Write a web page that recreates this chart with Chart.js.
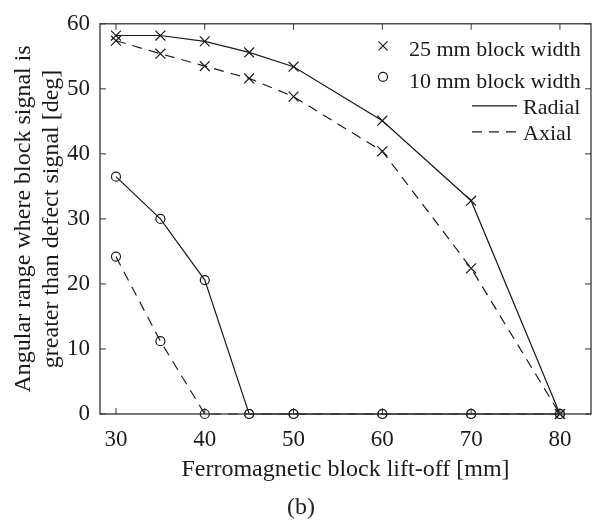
<!DOCTYPE html>
<html lang="en">
<head>
  <meta charset="UTF-8">
  <title>Angular range vs block lift-off</title>
  <script src="https://cdn.jsdelivr.net/npm/chart.js"></script>
  <style>
    body {
      margin: 0;
      background: #fff;
      font-family: 'Liberation Serif', 'Times New Roman', serif;
    }

    #chartContainer {
      position: relative;
      width: 616px;
      height: 520px;
    }

    #caption {
      position: absolute;
      left: 270px;
      top: 494px;
      width: 62px;
      text-align: center;
      font-size: 24px;
      line-height: 24px;
      color: #222;
    }
  </style>
</head>
<body>

  <div id="chartContainer">
    <canvas id="liftoffChart"></canvas>
    <div id="caption">(b)</div>
  </div>

  <script>
    // lift-off positions [mm]
    const liftoff = [30, 35, 40, 45, 50, 60, 70, 80];

    // angular range [deg]
    const wide25Radial = [58.2, 58.2, 57.3, 55.6, 53.4, 45.1, 32.8, 0];
    const wide25Axial = [57.4, 55.4, 53.5, 51.6, 48.8, 40.4, 22.4, 0];
    const narrow10Radial = [36.5, 30.0, 20.6, 0, 0, 0, 0, 0];
    const narrow10Axial = [24.2, 11.2, 0, 0, 0, 0, 0, 0];

    const xTicks = [30, 40, 50, 60, 70, 80];
    const yTicks = [0, 10, 20, 30, 40, 50, 60];

    const legendText = ['25 mm block width', '10 mm block width', 'Radial', 'Axial'];

    const ink = '#1a1a1a';
    const dash = [10, 7];
    const serif = "'Liberation Serif', 'Times New Roman', serif";

    function pts(values) {
      return liftoff.map((x, i) => ({ x: x, y: values[i] }));
    }

    function series(label, values, marker, dashed) {
      return {
        label: label,
        data: pts(values),
        borderColor: ink,
        backgroundColor: 'rgba(0,0,0,0)',
        borderWidth: 1.2,
        borderDash: dashed ? dash : [],
        pointStyle: marker,
        pointRadius: marker === 'crossRot' ? 7 : 4.5,
        pointBorderColor: ink,
        pointBorderWidth: 1.2,
        pointBackgroundColor: 'rgba(0,0,0,0)',
        tension: 0,
        clip: false
      };
    }

    // box round the plot with inward ticks, like a matlab axes
    const frame = {
      id: 'frame',
      afterDatasetsDraw(chart) {
        const { ctx, chartArea: a, scales } = chart;
        const t = 6;
        ctx.save();
        ctx.strokeStyle = '#333';
        ctx.lineWidth = 1.3;
        ctx.strokeRect(a.left, a.top, a.right - a.left, a.bottom - a.top);
        ctx.lineWidth = 1;
        ctx.beginPath();
        xTicks.forEach(v => {
          const px = scales.x.getPixelForValue(v);
          ctx.moveTo(px, a.bottom); ctx.lineTo(px, a.bottom - t);
          ctx.moveTo(px, a.top); ctx.lineTo(px, a.top + t);
        });
        yTicks.forEach(v => {
          const py = scales.y.getPixelForValue(v);
          ctx.moveTo(a.left, py); ctx.lineTo(a.left + t, py);
          ctx.moveTo(a.right, py); ctx.lineTo(a.right - t, py);
        });
        ctx.stroke();
        ctx.restore();
      },
      afterDraw(chart) {
        const { ctx, chartArea: a } = chart;
        const r = a.right, top = a.top;
        ctx.save();
        ctx.strokeStyle = ink;
        ctx.fillStyle = ink;
        ctx.lineWidth = 1.2;

        // cross marker
        const cx = r - 208, cy = top + 22, s = 4.5;
        ctx.beginPath();
        ctx.moveTo(cx - s, cy - s); ctx.lineTo(cx + s, cy + s);
        ctx.moveTo(cx - s, cy + s); ctx.lineTo(cx + s, cy - s);
        ctx.stroke();
        // circle marker
        ctx.beginPath();
        ctx.arc(cx, top + 53, 4.5, 0, Math.PI * 2);
        ctx.stroke();

        // line samples
        ctx.lineWidth = 1.2;
        ctx.beginPath();
        ctx.moveTo(r - 119, top + 82); ctx.lineTo(r - 74, top + 82);
        ctx.stroke();
        ctx.setLineDash(dash);
        ctx.beginPath();
        ctx.moveTo(r - 119, top + 108); ctx.lineTo(r - 74, top + 108);
        ctx.stroke();
        ctx.setLineDash([]);

        ctx.font = '22px ' + serif;
        ctx.textAlign = 'left';
        ctx.textBaseline = 'alphabetic';
        ctx.fillText(legendText[0], r - 182, top + 32);
        ctx.fillText(legendText[1], r - 182, top + 64);
        ctx.fillText(legendText[2], r - 68, top + 90);
        ctx.fillText(legendText[3], r - 68, top + 116);
        ctx.restore();
      }
    };

    const ctx = document.getElementById('liftoffChart').getContext('2d');

    const config = {
      type: 'line',
      data: {
        datasets: [
          series('25 mm Radial', wide25Radial, 'crossRot', false),
          series('25 mm Axial', wide25Axial, 'crossRot', true),
          series('10 mm Radial', narrow10Radial, 'circle', false),
          series('10 mm Axial', narrow10Axial, 'circle', true)
        ]
      },
      options: {
        responsive: true,
        maintainAspectRatio: false,
        animation: false,
        layout: {
          padding: { top: 16, right: 25, bottom: 0, left: 0 }
        },
        plugins: {
          legend: { display: false },
          tooltip: { enabled: false }
        },
        scales: {
          x: {
            type: 'linear',
            min: 28.2,
            max: 83.5,
            grid: { display: false, drawTicks: false },
            border: { display: false },
            afterBuildTicks: (scale) => { scale.ticks = xTicks.map(v => ({ value: v })); },
            afterFit: (scale) => { scale.height = 106; },
            ticks: {
              padding: 12,
              color: ink,
              font: { family: serif, size: 23, lineHeight: 1.2 }
            },
            title: {
              display: true,
              text: 'Ferromagnetic block lift-off [mm]',
              color: ink,
              font: { family: serif, size: 24, lineHeight: 1.2 },
              padding: { top: 0, bottom: 36 }
            }
          },
          y: {
            type: 'linear',
            min: 0,
            max: 60,
            grid: { display: false, drawTicks: false },
            border: { display: false },
            afterBuildTicks: (scale) => { scale.ticks = yTicks.map(v => ({ value: v })); },
            afterFit: (scale) => { scale.width = 100; },
            ticks: {
              padding: 10,
              color: ink,
              font: { family: serif, size: 23, lineHeight: 1.2 }
            },
            title: {
              display: true,
              text: ['Angular range where block signal is', 'greater than defect signal [deg]'],
              color: ink,
              font: { family: serif, size: 24, lineHeight: 1.17 },
              padding: { top: 10, bottom: 0 }
            }
          }
        }
      },
      plugins: [frame]
    };

    new Chart(ctx, config);
  </script>

</body>
</html>
